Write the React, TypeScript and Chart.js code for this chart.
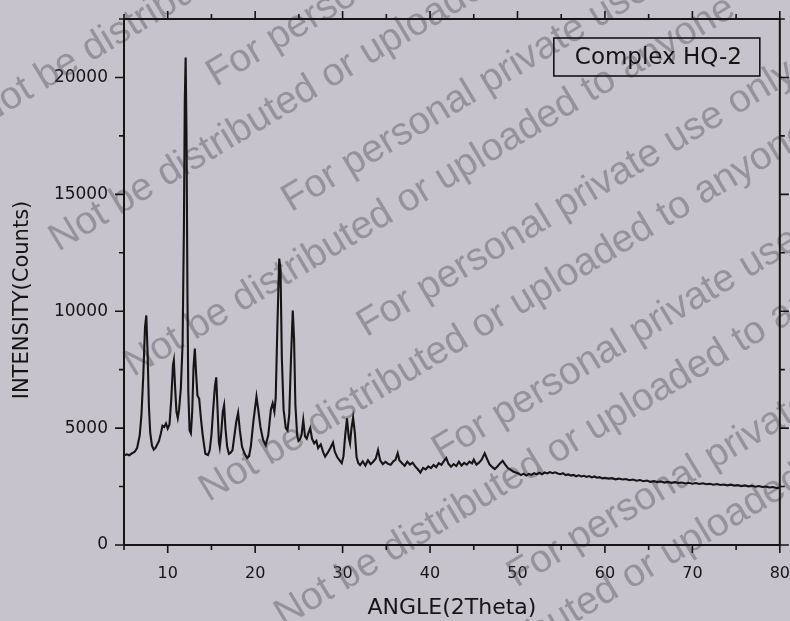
import React, { useEffect, useRef } from 'react';
import { Chart, registerables } from 'chart.js';

Chart.register(...registerables);

const SERIES_LABEL = 'Complex HQ-2';
const X_TITLE = 'ANGLE(2Theta)';
const Y_TITLE = 'INTENSITY(Counts)';
const X_TICKS = [10, 20, 30, 40, 50, 60, 70, 80];
const X_MINOR = [5, 15, 25, 35, 45, 55, 65, 75];
const Y_TICKS = [0, 5000, 10000, 15000, 20000];
const Y_MINOR = [2500, 7500, 12500, 17500, 22500];
const WATERMARK_LINES = ['For personal private use only', 'Not be distributed or uploaded to anyone'];

const ANGLES = [
  5.0, 5.3, 5.6, 5.9, 6.2, 6.5, 6.8, 7.0, 7.2, 7.4, 7.55, 7.7, 7.85, 8.0, 8.2, 8.4, 8.6, 8.8, 9.0, 9.2, 9.4, 9.6, 9.8,
  10.0, 10.2, 10.4, 10.6, 10.7, 10.85, 11.0, 11.15, 11.3, 11.5, 11.7, 11.85, 11.95, 12.05, 12.15, 12.25, 12.35, 12.5,
  12.65, 12.8, 12.95, 13.1, 13.25, 13.4, 13.6, 13.8, 14.0, 14.3, 14.6, 14.8, 15.0, 15.2, 15.4, 15.55, 15.7, 15.85,
  15.95, 16.1, 16.3, 16.45, 16.6, 16.8, 17.0, 17.2, 17.4, 17.6, 17.85, 18.05, 18.25, 18.5, 18.8, 19.1, 19.3, 19.5,
  19.8, 20.15, 20.35, 20.6, 20.9, 21.2, 21.5, 21.8, 22.0, 22.2, 22.35, 22.55, 22.75, 22.9, 23.05, 23.25, 23.5, 23.7,
  23.9, 24.1, 24.3, 24.45, 24.6, 24.8, 24.95, 25.1, 25.3, 25.5, 25.7, 25.9, 26.1, 26.3, 26.5, 26.75, 27.0, 27.2, 27.5,
  27.8, 28.0, 28.3, 28.6, 28.9, 29.1, 29.4, 29.7, 29.9, 30.1, 30.3, 30.5, 30.7, 30.85, 31.0, 31.2, 31.4, 31.6, 31.8,
  32.0, 32.3, 32.6, 32.9, 33.2, 33.5, 33.8, 34.05, 34.3, 34.6, 34.9, 35.2, 35.5, 35.8, 36.05, 36.3, 36.5, 36.8, 37.1,
  37.4, 37.7, 38.0, 38.3, 38.6, 38.9, 39.2, 39.5, 39.8, 40.1, 40.4, 40.7, 41.0, 41.3, 41.6, 41.85, 42.1, 42.4, 42.7,
  43.0, 43.3, 43.6, 43.9, 44.2, 44.5, 44.8, 45.0, 45.3, 45.6, 45.9, 46.25, 46.5, 46.8, 47.1, 47.4, 47.7, 48.0, 48.3,
  48.6, 48.9, 49.2, 49.5, 49.8, 50.1, 50.4, 50.7, 51.0, 51.3, 51.6, 51.9, 52.2, 52.5, 52.8, 53.1, 53.4, 53.7, 54.0,
  54.3, 54.6, 54.9, 55.2, 55.5, 55.8, 56.1, 56.4, 56.7, 57.0, 57.3, 57.6, 57.9, 58.2, 58.5, 58.8, 59.1, 59.4, 59.7,
  60.0, 60.4, 60.8, 61.2, 61.6, 62.0, 62.4, 62.8, 63.2, 63.6, 64.0, 64.4, 64.8, 65.2, 65.6, 66.0, 66.4, 66.8, 67.2,
  67.6, 68.0, 68.4, 68.8, 69.2, 69.6, 70.0, 70.4, 70.8, 71.2, 71.6, 72.0, 72.4, 72.8, 73.2, 73.6, 74.0, 74.4, 74.8,
  75.2, 75.6, 76.0, 76.4, 76.8, 77.2, 77.6, 78.0, 78.4, 78.8, 79.2, 79.6, 80.0,
];

const COUNTS = [
  3820, 3880, 3840, 3920, 3980, 4150, 4700, 5600, 7200, 9300, 9820, 8200, 5900, 4800, 4250, 4080, 4150, 4300, 4450, 4750, 5100, 5050, 5200,
  4980, 5150, 6200, 7700, 7900, 6700, 5700, 5430, 5800, 6700, 8600, 13500, 19000, 20850, 17500, 11000, 6600, 4900,
  4780, 5700, 7600, 8400, 7300, 6400, 6250, 5400, 4700, 3900, 3850, 4050, 4700, 5800, 6800, 7170, 5800, 4400,
  4180, 4700, 5700, 5980, 5000, 4200, 3900, 3950, 4050, 4600, 5300, 5650, 4900, 4200, 3900, 3720, 3800, 4200,
  5300, 6350, 5800, 5050, 4500, 4270, 4700, 5800, 6060, 5700, 6300, 9500, 12250, 11800, 8000, 5800, 5000, 4900,
  5600, 8000, 10030, 8800, 6000, 4700, 4450, 4500, 4700, 5350, 4650, 4550, 4800, 5000, 4550, 4350, 4450, 4150, 4300,
  3950, 3780, 3950, 4150, 4380, 4000, 3750, 3600, 3500, 3800, 4700, 5420, 4600, 4350, 4950, 5450, 4800, 3750, 3500,
  3420, 3580, 3400, 3620, 3460, 3560, 3700, 4060, 3620, 3460, 3560, 3470, 3430, 3580, 3640, 3930, 3620, 3500, 3390,
  3560, 3440, 3520, 3360, 3240, 3100, 3300, 3230, 3360, 3290, 3420, 3330, 3500, 3430, 3600, 3720, 3480, 3350, 3460,
  3380, 3560, 3400, 3510, 3440, 3570, 3490, 3650, 3440, 3520, 3650, 3920, 3700, 3450, 3340, 3250, 3360, 3490, 3600,
  3440, 3290, 3220, 3140, 3100, 3060, 2990, 3050, 2970, 3040, 3000, 3070, 3020, 3090, 3030, 3100, 3060, 3120, 3070,
  3110, 3060, 3030, 3070, 2990, 3020, 2970, 3000, 2940, 2980, 2930, 2960, 2910, 2950, 2890, 2930, 2880, 2900, 2850,
  2870, 2840, 2860, 2810, 2840, 2800, 2820, 2770, 2800, 2750, 2780, 2730, 2760, 2700, 2730, 2690, 2720, 2670, 2700,
  2660, 2690, 2650, 2670, 2630, 2660, 2620, 2650, 2610, 2640, 2600, 2620, 2580, 2610, 2570, 2590, 2550, 2580, 2540,
  2560, 2520, 2550, 2510, 2530, 2490, 2520, 2480, 2500, 2460, 2480, 2440, 2450,
];

const FONT = '"DejaVu Sans", "Liberation Sans", sans-serif';
const INK = '#151515';
const PAPER = '#c7c3cc';

const decorPlugin = {
  id: 'decor',
  beforeDatasetsDraw(chart: any) {
    const ctx = chart.ctx;
    ctx.save();
    ctx.font = `39px "Liberation Sans", Arial, sans-serif`;
    ctx.fillStyle = 'rgba(80, 78, 88, 0.42)';
    ctx.textBaseline = 'alphabetic';
    ctx.textAlign = 'left';
    const a = (31 * Math.PI) / 180;
    const ux = Math.cos(a), uy = -Math.sin(a);
    const vx = Math.sin(a), vy = Math.cos(a);
    for (let k = 0; k < 6; k++) {
      const rows = [
        { text: WATERMARK_LINES[0], u: 140, v: 40 + 146 * k },
        { text: WATERMARK_LINES[1], u: -80, v: 100 + 146 * k },
      ];
      for (const r of rows) {
        const px = r.u * ux + r.v * vx;
        const py = r.u * uy + r.v * vy;
        ctx.save();
        ctx.translate(px, py);
        ctx.rotate(-a);
        ctx.fillText(r.text, 0, 0);
        ctx.restore();
      }
    }
    ctx.restore();
  },
  afterDraw(chart: any) {
    const ctx = chart.ctx;
    const { left, right, top, bottom } = chart.chartArea;
    const xs = chart.scales.x;
    const ys = chart.scales.y;
    ctx.save();
    ctx.strokeStyle = INK;
    ctx.lineWidth = 2;
    ctx.strokeRect(left, top, right - left, bottom - top);
    ctx.lineWidth = 1.6;
    ctx.beginPath();
    const xt = (vals: number[], len: number) => {
      for (const v of vals) {
        const p = xs.getPixelForValue(v);
        ctx.moveTo(p, bottom); ctx.lineTo(p, bottom + len);
        ctx.moveTo(p, top); ctx.lineTo(p, top - len);
      }
    };
    const yt = (vals: number[], len: number) => {
      for (const v of vals) {
        const p = ys.getPixelForValue(v);
        ctx.moveTo(left, p); ctx.lineTo(left - len, p);
        ctx.moveTo(right, p); ctx.lineTo(right + len, p);
      }
    };
    xt(X_TICKS, 8); xt(X_MINOR, 5); yt(Y_TICKS, 9); yt(Y_MINOR, 5);
    ctx.stroke();

    // y axis title
    ctx.fillStyle = INK;
    ctx.font = `21px ${FONT}`;
    ctx.textAlign = 'center';
    ctx.textBaseline = 'middle';
    ctx.save();
    ctx.translate(23, 300);
    ctx.rotate(-Math.PI / 2);
    ctx.fillText(Y_TITLE, 0, 0);
    ctx.restore();

    // legend box
    const bx = right - 226, by = top + 19, bw = 206, bh = 38;
    ctx.lineWidth = 1.6;
    ctx.strokeRect(bx, by, bw, bh);
    ctx.font = `23px ${FONT}`;
    ctx.textAlign = 'left';
    ctx.textBaseline = 'middle';
    ctx.fillText(chart.data.datasets[0].label, bx + 21, by + bh / 2 + 1);
    ctx.restore();
  },
};

export default function App() {
  const ref = useRef<HTMLCanvasElement | null>(null);
  useEffect(() => {
    if (!ref.current) return;
    const chart = new Chart(ref.current, {
      type: 'line',
      data: {
        datasets: [
          {
            label: SERIES_LABEL,
            data: ANGLES.map((a, i) => ({ x: a, y: COUNTS[i] })),
            borderColor: INK,
            borderWidth: 2.1,
            pointRadius: 0,
            tension: 0,
            fill: false,
          },
        ],
      },
      options: {
        responsive: false,
        animation: false,
        layout: { padding: { top: 19, right: 10, left: 0, bottom: 0 } },
        plugins: { legend: { display: false }, tooltip: { enabled: false } },
        scales: {
          x: {
            type: 'linear',
            min: 5,
            max: 80,
            afterBuildTicks: (s: any) => { s.ticks = X_TICKS.map((v) => ({ value: v })); },
            afterFit: (s: any) => { s.height = 76; },
            grid: { display: true, drawOnChartArea: false, drawTicks: true, tickLength: 19, tickColor: 'rgba(0,0,0,0)', color: 'rgba(0,0,0,0)' },
            border: { display: false },
            ticks: { padding: 0, autoSkip: false, maxRotation: 0, color: INK, font: { family: FONT, size: 16 } },
            title: { display: true, text: X_TITLE, color: INK, font: { family: FONT, size: 22 }, padding: { top: 0, bottom: 0 } },
          },
          y: {
            type: 'linear',
            min: 0,
            max: 22500,
            afterBuildTicks: (s: any) => { s.ticks = Y_TICKS.map((v) => ({ value: v })); },
            afterFit: (s: any) => { s.width = 124; },
            grid: { display: true, drawOnChartArea: false, drawTicks: true, tickLength: 16, tickColor: 'rgba(0,0,0,0)', color: 'rgba(0,0,0,0)' },
            border: { display: false },
            ticks: { padding: 0, color: INK, font: { family: FONT, size: 17 }, callback: (v: any) => String(v) },
          },
        },
      },
      plugins: [decorPlugin],
    } as any);
    return () => chart.destroy();
  }, []);
  return (
    <div style={{ position: 'fixed', left: 0, top: 0, width: 790, height: 621, background: PAPER }}>
      <canvas ref={ref} width={790} height={621} style={{ display: 'block' }} />
    </div>
  );
}
